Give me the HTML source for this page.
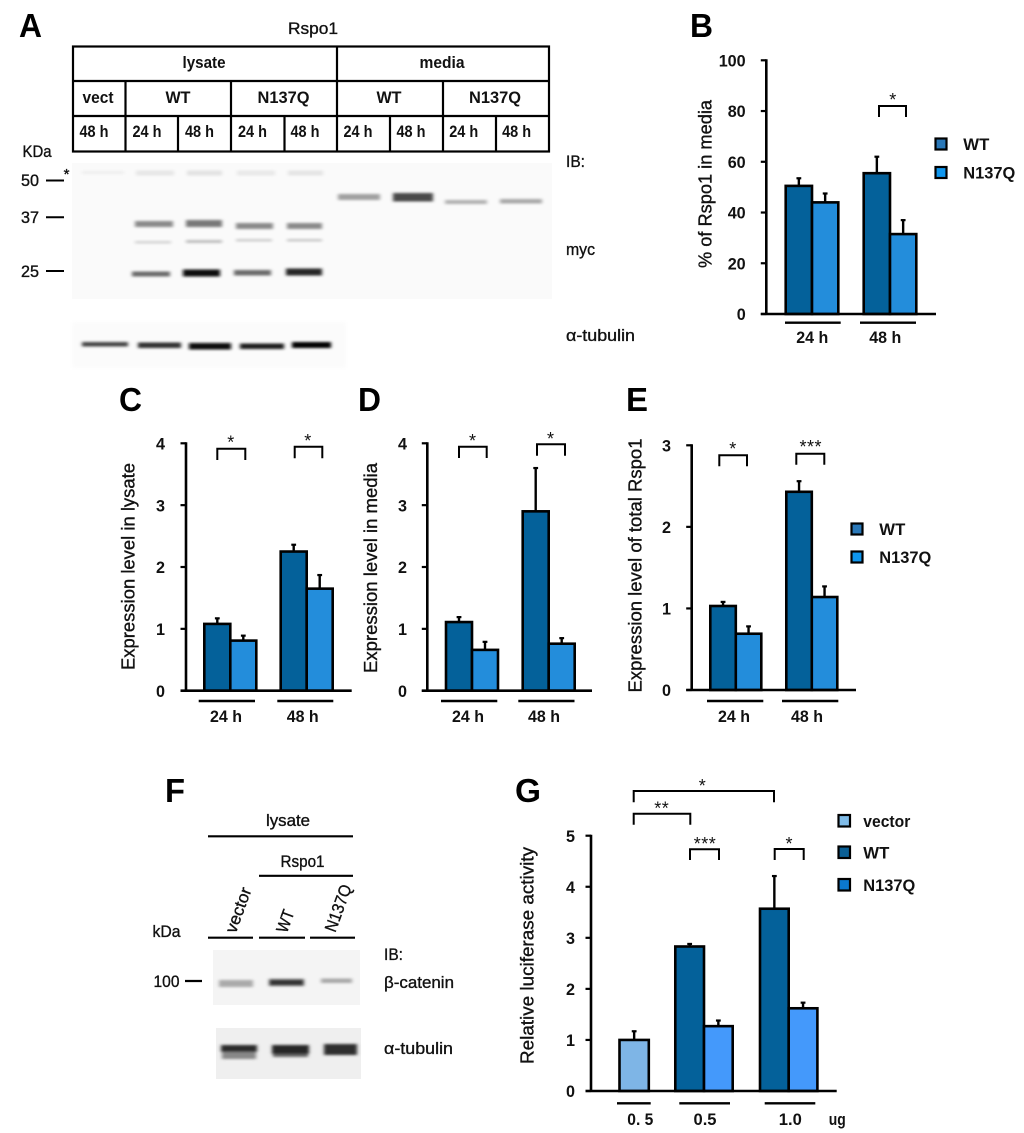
<!DOCTYPE html>
<html lang="en">
<head>
<meta charset="utf-8">
<title>Rspo1 figure</title>
<style>
html,body{margin:0;padding:0;background:#fff;}
svg{display:block;font-family:"Liberation Sans",sans-serif;filter:blur(0.3px);}
text{fill:#111;}
.b{font-weight:bold;}
.m{stroke:#111;stroke-width:.35;}
.l{font-weight:bold;font-size:33px;fill:#000;}
</style>
</head>
<body>
<svg id="fig" width="1024" height="1133" viewBox="0 0 1024 1133" xmlns="http://www.w3.org/2000/svg">
<defs>
<filter id="bl" x="-30%" y="-200%" width="160%" height="500%"><feGaussianBlur stdDeviation="1.8 1.3"/></filter>
<filter id="bs" x="-10%" y="-10%" width="120%" height="120%"><feGaussianBlur stdDeviation="2"/></filter>
</defs>

<!-- panel letters -->
<g>
<text class="l" x="19" y="37" textLength="23" lengthAdjust="spacingAndGlyphs">A</text>
<text class="l" x="690" y="37" textLength="23" lengthAdjust="spacingAndGlyphs">B</text>
<text class="l" x="119" y="411" textLength="23" lengthAdjust="spacingAndGlyphs">C</text>
<text class="l" x="358" y="411" textLength="23" lengthAdjust="spacingAndGlyphs">D</text>
<text class="l" x="626" y="411" textLength="22" lengthAdjust="spacingAndGlyphs">E</text>
<text class="l" x="165" y="802" textLength="20" lengthAdjust="spacingAndGlyphs">F</text>
<text class="l" x="515" y="802" textLength="26" lengthAdjust="spacingAndGlyphs">G</text>
</g>

<!-- panel A table -->
<g>
<text class="m" x="313" y="34" font-size="17" text-anchor="middle" textLength="50" lengthAdjust="spacingAndGlyphs">Rspo1</text>
<g stroke="#000" stroke-width="2.2" fill="none">
<rect x="73" y="46.5" width="476" height="105"/>
<path d="M73 81H549M73 116H549M337 46.5V151.5M125.5 81V151.5M231 81V151.5M443 81V151.5M178 116V151.5M284.500 116V151.500M390 116V151.500M496 116V151.500"/>
</g>
<g class="b" font-size="17" text-anchor="middle">
<text x="204" y="68" textLength="43" lengthAdjust="spacingAndGlyphs">lysate</text>
<text x="442" y="68" textLength="45" lengthAdjust="spacingAndGlyphs">media</text>
<text x="98" y="103" textLength="31" lengthAdjust="spacingAndGlyphs">vect</text>
<text x="178" y="103" textLength="25" lengthAdjust="spacingAndGlyphs">WT</text>
<text x="283.500" y="103" textLength="52" lengthAdjust="spacingAndGlyphs">N137Q</text>
<text x="389" y="103" textLength="25" lengthAdjust="spacingAndGlyphs">WT</text>
<text x="495" y="103" textLength="52" lengthAdjust="spacingAndGlyphs">N137Q</text>
<text x="94" y="137" textLength="29" lengthAdjust="spacingAndGlyphs">48 h</text>
<text x="147" y="137" textLength="29" lengthAdjust="spacingAndGlyphs">24 h</text>
<text x="199.500" y="137" textLength="29" lengthAdjust="spacingAndGlyphs">48 h</text>
<text x="252.500" y="137" textLength="29" lengthAdjust="spacingAndGlyphs">24 h</text>
<text x="305" y="137" textLength="29" lengthAdjust="spacingAndGlyphs">48 h</text>
<text x="358" y="137" textLength="29" lengthAdjust="spacingAndGlyphs">24 h</text>
<text x="411" y="137" textLength="29" lengthAdjust="spacingAndGlyphs">48 h</text>
<text x="463.700" y="137" textLength="29" lengthAdjust="spacingAndGlyphs">24 h</text>
<text x="516.600" y="137" textLength="29" lengthAdjust="spacingAndGlyphs">48 h</text>
</g>
</g>

<!-- panel A blot -->
<g>
<rect x="72" y="163" width="480" height="136" fill="#fafafa"/>
<rect x="72" y="322" width="274" height="46" fill="#fbfbfb" filter="url(#bs)"/>
<g filter="url(#bl)">
<rect x="82" y="171" width="42" height="3" fill="#eeeeee"/>
<rect x="136" y="170.500" width="38" height="5" fill="#e6e6e6"/>
<rect x="187" y="170.500" width="35" height="5" fill="#e2e2e2"/>
<rect x="237" y="170.500" width="38" height="5" fill="#e8e8e8"/>
<rect x="288" y="170.500" width="35" height="5" fill="#e4e4e4"/>
<rect x="135" y="221" width="38" height="6" fill="#8a8a8a"/>
<rect x="186" y="220" width="36" height="7" fill="#787878"/>
<rect x="236" y="223" width="37" height="6" fill="#8a8a8a"/>
<rect x="287" y="223" width="35" height="6" fill="#8a8a8a"/>
<rect x="135" y="241" width="36" height="2.500" fill="#d2d2d2"/>
<rect x="186" y="240" width="36" height="3" fill="#bebebe"/>
<rect x="236" y="239" width="36" height="2.500" fill="#cccccc"/>
<rect x="287" y="239" width="35" height="2.500" fill="#c8c8c8"/>
<rect x="132" y="271.500" width="38" height="5" fill="#6a6a6a"/>
<rect x="183" y="269.500" width="37" height="7" fill="#0c0c0c"/>
<rect x="234" y="270" width="37" height="5.500" fill="#6c6c6c"/>
<rect x="286" y="268.500" width="36" height="7" fill="#262626"/>
<rect x="338" y="194" width="42" height="6" fill="#a0a0a0"/>
<rect x="393" y="193" width="40" height="8.500" fill="#4a4a4a"/>
<rect x="445" y="200" width="42" height="4" fill="#b0b0b0"/>
<rect x="500" y="199" width="42" height="4.500" fill="#a8a8a8"/>
</g>
<g filter="url(#bl)">
<rect x="82" y="342" width="46" height="4.500" fill="#444"/>
<rect x="138" y="342.500" width="43" height="5.500" fill="#333"/>
<rect x="189" y="343" width="42" height="6.500" fill="#0c0c0c"/>
<rect x="240" y="343.500" width="44" height="5.500" fill="#1e1e1e"/>
<rect x="292" y="342" width="39" height="6" fill="#000"/>
</g>
<g font-size="16.500" class="m">
<text x="37" y="157" text-anchor="middle" textLength="29" lengthAdjust="spacingAndGlyphs">KDa</text>
<text x="30" y="186" text-anchor="middle" textLength="18" lengthAdjust="spacingAndGlyphs">50</text>
<text x="30" y="223" text-anchor="middle" textLength="18" lengthAdjust="spacingAndGlyphs">37</text>
<text x="30" y="277" text-anchor="middle" textLength="18" lengthAdjust="spacingAndGlyphs">25</text>
<text x="66.500" y="179" text-anchor="middle" font-size="15">*</text>
<text x="566" y="167" textLength="19" lengthAdjust="spacingAndGlyphs">IB:</text>
<text x="566" y="255" textLength="29" lengthAdjust="spacingAndGlyphs">myc</text>
<text x="566" y="341" textLength="69" lengthAdjust="spacingAndGlyphs">α-tubulin</text>
</g>
<path d="M46 180.500H64M46 217.300H64M46 271H64" stroke="#000" stroke-width="2"/>
</g>

<!-- panel F blot -->
<g>
<rect x="213" y="950" width="147" height="55" fill="#f4f4f4"/>
<rect x="216" y="1028" width="145" height="51" fill="#efefef"/>
<g filter="url(#bl)">
<rect x="219" y="980" width="34" height="7" fill="#aaa"/>
<rect x="269" y="979" width="35" height="7" fill="#555"/>
<rect x="270" y="981" width="33" height="3" fill="#222"/>
<rect x="321" y="978.500" width="31" height="4.500" fill="#a8a8a8"/>
</g>
<g filter="url(#bl)">
<rect x="222" y="1048" width="34" height="11" fill="#888"/>
<rect x="221" y="1045" width="36" height="7" fill="#2a2a2a"/>
<rect x="273" y="1049" width="35" height="8" fill="#666"/>
<rect x="272" y="1045" width="37" height="9" fill="#262626"/>
<rect x="324" y="1044" width="33" height="11" fill="#2e2e2e"/>
</g>
<path d="M208 836.300H353M259 875.800H353M208 937.700H253M259 937.700H305M310 937.700H355M185 981H202" stroke="#000" stroke-width="2.200" fill="none"/>
<g font-size="17" class="m">
<text x="288" y="826" text-anchor="middle" textLength="44" lengthAdjust="spacingAndGlyphs">lysate</text>
<text x="302.500" y="867" text-anchor="middle" textLength="44" lengthAdjust="spacingAndGlyphs">Rspo1</text>
<text x="166.500" y="937" text-anchor="middle" textLength="28" lengthAdjust="spacingAndGlyphs">kDa</text>
<text x="166.500" y="987" text-anchor="middle" textLength="26" lengthAdjust="spacingAndGlyphs">100</text>
<text x="384" y="960" textLength="19" lengthAdjust="spacingAndGlyphs">IB:</text>
<text x="384" y="988" textLength="70" lengthAdjust="spacingAndGlyphs">β-catenin</text>
<text x="384" y="1054" textLength="69" lengthAdjust="spacingAndGlyphs">α-tubulin</text>
<text transform="translate(238,910) rotate(-70)" y="6" text-anchor="middle" textLength="47" lengthAdjust="spacingAndGlyphs">vector</text>
<text transform="translate(285,921) rotate(-70)" y="6" text-anchor="middle" textLength="23" lengthAdjust="spacingAndGlyphs">WT</text>
<text transform="translate(338,908) rotate(-70)" y="6" text-anchor="middle" textLength="49" lengthAdjust="spacingAndGlyphs">N137Q</text>
</g>
</g>

<g id="charts"></g>
</svg>

<script>
// ---- chart data ----
var timeCategories = ['24 h', '48 h'];

var bTicks = [0, 20, 40, 60, 80, 100];
var bWT = [50.5, 55.5];
var bN137Q = [44, 31.5];
var bWTTop = [53.5, 62];
var bN137QTop = [47.5, 37];

var cTicks = [0, 1, 2, 3, 4];
var cWT = [1.08, 2.25];
var cN137Q = [0.81, 1.65];
var cWTTop = [1.17, 2.36];
var cN137QTop = [0.89, 1.87];

var dTicks = [0, 1, 2, 3, 4];
var dWT = [1.11, 2.9];
var dN137Q = [0.66, 0.76];
var dWTTop = [1.19, 3.6];
var dN137QTop = [0.79, 0.85];

var eTicks = [0, 1, 2, 3];
var eWT = [1.03, 2.43];
var eN137Q = [0.69, 1.14];
var eWTTop = [1.08, 2.56];
var eN137QTop = [0.78, 1.27];

var gTicks = [0, 1, 2, 3, 4, 5];
var gDoseLabels = ['0. 5', '0.5', '1.0'];
var gVector = [1.0];
var gVectorTop = [1.17];
var gWT = [2.83, 3.57];
var gN137Q = [1.27, 1.62];
var gWTTop = [2.88, 4.21];
var gN137QTop = [1.38, 1.73];

var DARK = '#04619a', LIGHT = '#238ddb', BRIGHT = '#4499fb', PALE = '#7eb5e6';
var LABEL = 17;
var NS = 'http://www.w3.org/2000/svg';
var root = document.getElementById('charts');

function mk(tag, parent, attrs) {
  var el = document.createElementNS(NS, tag);
  for (var k in attrs) el.setAttribute(k, attrs[k]);
  parent.appendChild(el);
  return el;
}
function group(name) {
  var g = mk('g', root, {});
  
  
  return g;
}
function label(parent, name, x, y, str, size, len, anchor, bold) {
  var t = mk('text', parent, { x: x, y: y + size * 0.36, 'font-size': size, 'text-anchor': anchor || 'middle' });
  if (len) { t.setAttribute('textLength', len); t.setAttribute('lengthAdjust', 'spacingAndGlyphs'); }
  t.setAttribute('class', bold === false ? 'm' : 'b');
  t.textContent = str;
  
  
  return t;
}
function line(parent, name, x1, y1, x2, y2, w) {
  var l = mk('line', parent, { x1: x1, y1: y1, x2: x2, y2: y2, stroke: '#000', 'stroke-width': w || 2.6 });
  
  
  return l;
}
function yTitle(parent, x, y, str, len) {
  var t = mk('text', parent, { transform: 'translate(' + x + ',' + y + ') rotate(-90)', y: 6.5, 'font-size': 18.5, 'text-anchor': 'middle', textLength: len, lengthAdjust: 'spacingAndGlyphs', 'class': 'm' });
  t.textContent = str;
  
  
}
function axes(parent, x0, xEnd, yAt, ticks, tickRight) {
  var top = yAt(ticks[ticks.length - 1]);
  line(parent, 'y-axis', x0, top - 1, x0, yAt(0) + 1);
  line(parent, 'x-axis', x0 - 5.5, yAt(0), xEnd, yAt(0));
  ticks.forEach(function (v) {
    line(parent, 'y-tick-' + v, x0 - 5.5, yAt(v), x0, yAt(v), 2.2);
    var w = String(v).length * 9;
    label(parent, 'y-tick-label-' + v, tickRight, yAt(v), String(v), LABEL, w, 'end');
  });
}
function bar(parent, name, x, w, v, top, yAt, fill) {
  var errX = x + w / 2;
  line(parent, name + '-error-stem', errX, yAt(top), errX, yAt(v), 2.4);
  line(parent, name + '-error-cap', errX - 2.4, yAt(top), errX + 2.4, yAt(top), 2.2);
  var r = mk('rect', parent, { x: x, y: yAt(v), width: w, height: yAt(0) - yAt(v), fill: fill, stroke: '#000', 'stroke-width': 2.6 });
  
  
}
function bracket(parent, name, x1, x2, yTop, yBot, stars, starX, starY) {
  var p = mk('path', parent, { d: 'M' + x1 + ' ' + yBot + 'V' + yTop + 'H' + x2 + 'V' + yBot, fill: 'none', stroke: '#000', 'stroke-width': 2 });
  
  
  var t = mk('text', parent, { x: starX, y: starY + 7, 'font-size': 18, 'text-anchor': 'middle', 'letter-spacing': stars.length > 1 ? 0.5 : 0 });
  t.textContent = stars;
  
  
}
function legendEntry(parent, name, x, y, size, fill, str, tx, len) {
  var r = mk('rect', parent, { x: x, y: y, width: size, height: size, fill: fill, stroke: '#000', 'stroke-width': 2.2 });
  
  
  label(parent, name + '-label', tx, y + size / 2, str, LABEL, len, 'start');
}
function linear(v0, px0, v1, px1) {
  return function (v) { return px0 + (v - v0) * (px1 - px0) / (v1 - v0); };
}
function pairedBars(parent, wt, wtTop, nq, nqTop, xStart, xStep, bw, yAt) {
  wt.forEach(function (v, i) {
    var x = xStart + i * xStep;
    bar(parent, 'bar-wt-' + i, x, bw, v, wtTop[i], yAt, DARK);
    bar(parent, 'bar-n137q-' + i, x + bw, bw, nq[i], nqTop[i], yAt, LIGHT);
  });
}

// Panel B
(function () {
  var g = group('chart-b');
  var yAt = linear(0, 314, 100, 60.3);
  pairedBars(g, bWT, bWTTop, bN137Q, bN137QTop, 785.7, 78, 26.3, yAt);
  axes(g, 766.3, 936, yAt, bTicks, 745.7);
  yTitle(g, 705, 184, '% of Rspo1 in media', 168);
  line(g, 'group-line-24h', 785, 322.7, 840.7, 322.7, 2.4);
  line(g, 'group-line-48h', 860, 322.7, 916, 322.7, 2.4);
  label(g, 'x-label-24h', 812.3, 337, timeCategories[0], LABEL, 32);
  label(g, 'x-label-48h', 885.3, 337, timeCategories[1], LABEL, 32);
  bracket(g, 'bracket-48h', 879, 906, 106, 117, '*', 892.7, 99);
  legendEntry(g, 'legend-wt', 935.5, 138.5, 11, '#2a78b8', 'WT', 963.3, 26);
  legendEntry(g, 'legend-n137q', 935.5, 167, 11, '#0f96ee', 'N137Q', 963.3, 52);
})();

// Panel C
(function () {
  var g = group('chart-c');
  var yAt = linear(0, 690.7, 4, 443.3);
  pairedBars(g, cWT, cWTTop, cN137Q, cN137QTop, 204.3, 76.4, 26, yAt);
  axes(g, 186, 351.7, yAt, cTicks, 165);
  yTitle(g, 128, 566.5, 'Expression level in lysate', 207);
  line(g, 'group-line-24h', 198.7, 701, 255, 701, 2.4);
  line(g, 'group-line-48h', 277.3, 701, 333.3, 701, 2.4);
  label(g, 'x-label-24h', 226, 716, timeCategories[0], LABEL, 32);
  label(g, 'x-label-48h', 302.7, 716, timeCategories[1], LABEL, 32);
  bracket(g, 'bracket-24h', 217.3, 245.3, 448.7, 460, '*', 230.7, 441.7);
  bracket(g, 'bracket-48h', 294.7, 322.3, 446.7, 458.3, '*', 307.7, 440);
})();

// Panel D
(function () {
  var g = group('chart-d');
  var yAt = linear(0, 690.7, 4, 443.3);
  pairedBars(g, dWT, dWTTop, dN137Q, dN137QTop, 446, 76.7, 26, yAt);
  axes(g, 427.3, 592, yAt, dTicks, 407);
  yTitle(g, 370.7, 568, 'Expression level in media', 210);
  line(g, 'group-line-24h', 441, 701, 497.3, 701, 2.4);
  line(g, 'group-line-48h', 518.3, 701, 574.5, 701, 2.4);
  label(g, 'x-label-24h', 468, 716, timeCategories[0], LABEL, 32);
  label(g, 'x-label-48h', 544, 716, timeCategories[1], LABEL, 32);
  bracket(g, 'bracket-24h', 459, 486.7, 446.7, 458, '*', 472.5, 440);
  bracket(g, 'bracket-48h', 537, 565, 444.3, 455.7, '*', 550.5, 438);
})();

// Panel E
(function () {
  var g = group('chart-e');
  var yAt = linear(0, 690, 3, 445.3);
  pairedBars(g, eWT, eWTTop, eN137Q, eN137QTop, 710.3, 76, 25.5, yAt);
  axes(g, 691.7, 856, yAt, eTicks, 671);
  yTitle(g, 635, 565.5, 'Expression level of total Rspo1', 254);
  line(g, 'group-line-24h', 707, 701, 763.3, 701, 2.4);
  line(g, 'group-line-48h', 782, 701, 838.3, 701, 2.4);
  label(g, 'x-label-24h', 734, 716, timeCategories[0], LABEL, 32);
  label(g, 'x-label-48h', 807, 716, timeCategories[1], LABEL, 32);
  bracket(g, 'bracket-24h', 719.3, 747, 455.3, 466.3, '*', 732.7, 448);
  bracket(g, 'bracket-48h', 796.3, 824.3, 453.7, 464.7, '***', 810.7, 446);
  legendEntry(g, 'legend-wt', 851.5, 523.5, 11, '#2a78b8', 'WT', 879.3, 26);
  legendEntry(g, 'legend-n137q', 851.5, 551.5, 11, '#0f96ee', 'N137Q', 879.3, 52);
})();

// Panel G
(function () {
  var g = group('chart-g');
  var yAt = linear(0, 1091, 5, 835.7);
  var bw = 28.7;
  gVector.forEach(function (v, i) {
    bar(g, 'bar-vector-' + i, 619.5, 29.3, v, gVectorTop[i], yAt, PALE);
  });
  gWT.forEach(function (v, i) {
    var x = 675.3 + i * 84.7;
    bar(g, 'bar-wt-' + i, x, bw, v, gWTTop[i], yAt, DARK);
    bar(g, 'bar-n137q-' + i, x + bw, bw, gN137Q[i], gN137QTop[i], yAt, BRIGHT);
  });
  axes(g, 591, 836.7, yAt, gTicks, 575);
  yTitle(g, 527, 955.5, 'Relative luciferase activity', 217);
  line(g, 'group-line-vector', 617, 1103.3, 650.7, 1103.3, 2.4);
  line(g, 'group-line-0-5', 679.3, 1103.3, 730, 1103.3, 2.4);
  line(g, 'group-line-1-0', 764.7, 1103.3, 815.3, 1103.3, 2.4);
  label(g, 'x-label-vector-dose', 640.3, 1119, gDoseLabels[0], LABEL, 26);
  label(g, 'x-label-wt-0-5', 705, 1119, gDoseLabels[1], LABEL, 23);
  label(g, 'x-label-wt-1-0', 790.3, 1119, gDoseLabels[2], LABEL, 23);
  label(g, 'x-unit-ug', 837.3, 1119, 'ug', LABEL, 17);
  bracket(g, 'bracket-vector-vs-wt-1-0', 633.7, 774, 791, 802.3, '*', 702.3, 785);
  bracket(g, 'bracket-vector-vs-wt-0-5', 633.7, 690.3, 813.7, 824.7, '**', 661.7, 807.7);
  bracket(g, 'bracket-wt-vs-n137q-0-5', 690, 719, 849.3, 860, '***', 705, 843);
  bracket(g, 'bracket-wt-vs-n137q-1-0', 774.7, 803.7, 849, 860, '*', 789, 843);
  legendEntry(g, 'legend-vector', 838.5, 815, 11.5, '#80bce8', 'vector', 863.3, 47);
  legendEntry(g, 'legend-wt', 838.5, 846.5, 11.5, '#0a5f95', 'WT', 863.3, 26);
  legendEntry(g, 'legend-n137q', 838.5, 879, 11.5, '#0b78cf', 'N137Q', 863.3, 52);
})();
</script>
</body>
</html>
